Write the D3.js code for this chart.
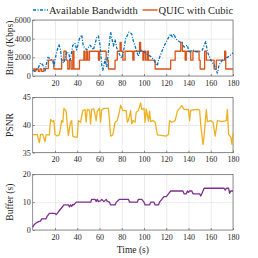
<!DOCTYPE html>
<meta charset="utf-8">
<style>
body { margin: 0; background: #fff; }
svg { font-family: "Liberation Serif", "Times New Roman", serif; }
.grid line { stroke: #e3e3e3; stroke-width: 0.7px; }
.grid path { display: none; }
.axis path, .axis line { stroke: #4d4d4d; stroke-width: 0.6px; }
.axis text { fill: #262626; font-size: 8px; font-family: "Liberation Serif", serif; }
.label { fill: #262626; font-size: 9.5px; }
.line { fill: none; stroke-width: 1.3px; stroke-linejoin: round; }
</style>
<body>
<script src="https://cdnjs.cloudflare.com/ajax/libs/d3/7.8.5/d3.min.js"></script>
<script>

// available bandwidth (Kbps)
var bwTime = [0,2,3.5,5,7,9,11,13.5,16,18,19,21,23.5,25,26,28,30.5,32.5,33.5,36,38,39.5,42,44,45.5,48.5,51.5,54.5,57.5,59,60.5,62,63,65,66.5,68,70,72.5,74,75.5,78,80,81.5,83.5,86.5,89,90.5,92,93.5,95,96.7,100,103,106,109,112,113,116,118,121,124,125.5,127,128.5,131.5,134.5,136,139,140.5,143.5,146.5,149.5,152.5,155.5,157,160,163,166,167.5,170.5,173.5,176.5,180];
var bwKbps = [600,500,700,900,1400,1200,550,2000,1850,1600,1050,2300,3400,2800,1600,1400,2600,2400,1600,3300,3500,2800,4000,4400,3200,2800,3300,2800,4100,4300,3300,1200,600,1800,900,2600,4700,3200,3900,3000,2300,1900,2600,4000,4700,4500,3700,3200,2600,2100,2800,2600,2300,2100,1700,1100,1700,2600,3200,3900,4500,4200,4500,4000,3700,3500,3100,3300,2500,2800,2600,2600,2800,3700,2600,1700,1200,300,1200,1700,1900,2100,2500];

// QUIC with Cubic bitrate (Kbps), value held until next change
var quicTime = [0,2,3,5,6.5,8,10,14,19,26,28,30,31.5,33,34.5,36,37,42,46,47,48.5,49.5,51,59,60,66,68,74,76,78.5,79.5,81,83,90,91,96,97,99,100,101.5,103,104,110,124,128,133,134.5,137,138,142,144,149.5,150.5,154.5,156,163,165,172.5,173.5,180];
var quicKbps = [750,550,750,500,750,500,800,1700,750,1700,2650,1700,750,1700,750,2650,750,1700,2650,1700,2650,1700,2650,1700,2650,1700,750,1700,2650,3600,2650,1700,2650,1700,2650,3600,2650,1700,2650,1700,2650,1700,750,1700,2650,3600,2650,1700,2650,1700,2650,1700,750,2650,1700,750,1700,2650,750,750];

// PSNR (dB)
var psnrTime = [0,4,6,7,9,11,12,15,16,18,19,20,22,24,26,27,28,30,31,32,34,35,36,38,40,41,43,45,47,48,49,51,52,53,55,57,58,60,61,62,64,66,68,69,70,72,74,76,78,79,81,84,85,86,88,89,90,92,93,95,97,98,100,101,102,104,105,106,108,110,112,120,122,123,125,128,130,134,136,140,141,142,148,150,151,153,154,156,157,160,162,164,166,170,174,175,176,178,179,180];
var psnrDb = [38.2,38.3,36.8,38.3,38.3,37.0,38.2,38.2,41.0,40.6,40.8,38.3,38.0,38.3,40.8,40.5,43.0,42.5,40.2,38.1,40.5,40.8,38.0,37.8,37.8,40.8,40.5,42.6,42.8,40.5,42.8,42.7,40.2,42.8,42.9,40.8,42.5,43.0,40.5,42.8,43.0,43.0,43.0,40.8,38.0,38.2,40.5,40.8,42.5,43.6,42.6,42.6,40.5,40.8,42.6,40.2,40.8,40.5,42.3,42.6,44.0,42.8,43.0,40.5,42.9,40.7,42.5,40.6,40.8,40.5,38.2,38.0,38.3,40.8,40.5,40.8,42.5,43.5,42.8,42.8,40.8,42.7,42.8,42.7,40.0,36.5,38.0,42.8,40.6,40.8,40.5,38.0,40.8,40.6,40.8,42.8,38.3,37.8,36.5,38.5];

// buffer level (s)
var bufTime = [0,1,3,5,7,8,12,13,15,20,21,22,24,26,28,32,33,34,35,36,37,39,52,53,56,57,58,59,61,62,64,66,67,69,70,74,75,78,86,87,94,95,98,100,101,105,106,109,110,113,114,116,118,120,122,124,135,136,138,139,140,141,143,144,150,151,152,154,172,173,174,176,177,178,180];
var bufSec = [1.0,1.8,2.5,3.0,3.2,4.0,4.0,5.0,6.0,6.0,5.5,6.0,7.0,8.0,9.0,9.0,8.3,9.0,8.5,9.2,9.0,10,10,11,11,10.3,11,10.2,10.5,11,10.2,11,10.3,10,9,9,10,11,11,10,10,11,11,10,9,9,10,10,9,9,10,11,12,12,13,14,14,13,13,14,13.5,14,14,13,13,12.2,13,15,15,14.3,15,15,13.2,14,14];

var timeTicks = [20,40,60,80,100,120,140,160,180];
var bitrateTicks = [0,2000,4000,6000];
var psnrTicks = [35,40,45];
var bufTicks = [0,10,20];

var svg = d3.select("body").append("svg")
    .attr("width", 258)
    .attr("height", 258);

var left = 32.75, right = 233;
var x = d3.scaleLinear().domain([0, 180]).range([left, right]);

function panel(top, bottom, yDomain, yTicks, yLabel) {
  var y = d3.scaleLinear().domain(yDomain).range([bottom, top]);
  var g = svg.append("g");
  g.append("g")
      .attr("class", "grid")
      .attr("transform", "translate(0," + bottom + ")")
      .call(d3.axisBottom(x).tickValues(timeTicks).tickSize(-(bottom - top)).tickFormat(""));
  g.append("g")
      .attr("class", "grid")
      .attr("transform", "translate(" + left + ",0)")
      .call(d3.axisLeft(y).tickValues(yTicks).tickSize(-(right - left)).tickFormat(""));
  g.append("rect")
      .attr("x", left).attr("y", top)
      .attr("width", right - left).attr("height", bottom - top)
      .attr("fill", "none").attr("stroke", "#4d4d4d").attr("stroke-width", 0.6);
  g.append("g")
      .attr("class", "axis")
      .attr("transform", "translate(0," + bottom + ")")
      .call(d3.axisBottom(x).tickValues(timeTicks).tickFormat(d3.format("d"))
        .tickSizeInner(-2).tickSizeOuter(0).tickPadding(4))
      .select(".domain").remove();
  g.append("g")
      .attr("class", "axis")
      .attr("transform", "translate(" + left + ",0)")
      .call(d3.axisLeft(y).tickValues(yTicks).tickFormat(d3.format("d"))
        .tickSizeInner(-2).tickSizeOuter(0).tickPadding(2))
      .select(".domain").remove();
  g.append("text")
      .attr("class", "label")
      .attr("transform", "translate(12.5," + ((top + bottom) / 2) + ") rotate(-90)")
      .attr("text-anchor", "middle")
      .text(yLabel);
  return {g: g, y: y};
}

var p1 = panel(20, 76, [0, 6000], bitrateTicks, "Bitrate (Kbps)");
var p2 = panel(97.3, 152.7, [35, 45], psnrTicks, "PSNR");
var p3 = panel(174.3, 230, [0, 20], bufTicks, "Buffer (s)");

function draw(p, ts, vs, color, curve, dash) {
  var line = d3.line()
      .curve(curve)
      .x(function(d) { return x(d[0]); })
      .y(function(d) { return p.y(d[1]); });
  var path = p.g.append("path")
      .datum(d3.zip(ts, vs))
      .attr("class", "line")
      .attr("stroke", color)
      .attr("d", line);
  if (dash) path.attr("stroke-dasharray", dash);
}

draw(p1, quicTime, quicKbps, "#D95319", d3.curveStepAfter);
draw(p1, bwTime, bwKbps, "#0072BD", d3.curveLinear, "3,1.5,1,1.5");
draw(p2, psnrTime, psnrDb, "#EDB120", d3.curveLinear);
draw(p3, bufTime, bufSec, "#7E2F8E", d3.curveLinear);

svg.append("text")
    .attr("class", "label")
    .attr("x", (left + right) / 2)
    .attr("y", 252.5)
    .attr("text-anchor", "middle")
    .text("Time (s)");

// legend
var legend = [
  {name: "Available Bandwidth", color: "#0072BD", dash: "3,1.5,1,1.5", x: 33},
  {name: "QUIC with Cubic", color: "#D95319", dash: null, x: 142.5}
];
legend.forEach(function(d) {
  svg.append("line")
      .attr("x1", d.x).attr("x2", d.x + 15)
      .attr("y1", 10).attr("y2", 10)
      .attr("stroke", d.color)
      .attr("stroke-width", 1.4)
      .attr("stroke-dasharray", d.dash);
  svg.append("text")
      .attr("x", d.x + 16)
      .attr("y", 13.5)
      .attr("fill", "#262626")
      .style("font-size", "10.5px")
      .text(d.name);
});
</script>
</body>
